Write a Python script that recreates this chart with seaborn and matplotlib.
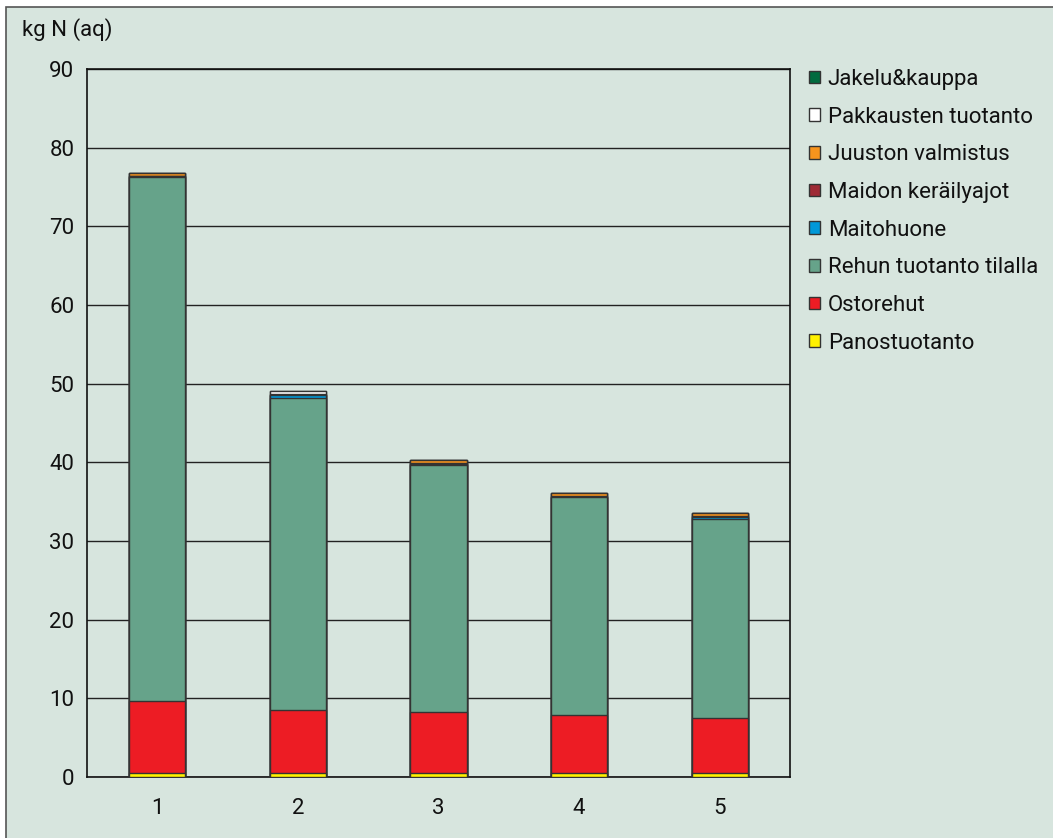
import numpy as np
import pandas as pd
import matplotlib
matplotlib.use("Agg")
import matplotlib.pyplot as plt
import seaborn as sns
from matplotlib.patches import Rectangle, Patch

categories = ["1", "2", "3", "4", "5"]
series_names = ["Panostuotanto", "Ostorehut", "Rehun tuotanto tilalla", "Maitohuone",
                "Maidon keräilyajot", "Juuston valmistus", "Pakkausten tuotanto", "Jakelu&kauppa"]
panostuotanto = [0.5, 0.5, 0.5, 0.5, 0.5]
ostorehut = [9.2, 8.0, 7.7, 7.35, 7.0]
rehun_tuotanto = [66.6, 39.7, 31.4, 27.7, 25.3]
maitohuone = [0.05, 0.3, 0.25, 0.1, 0.3]
maidon_keraily = [0.05, 0.1, 0.05, 0.05, 0.1]
juuston_valmistus = [0.35, 0.05, 0.35, 0.35, 0.3]
pakkausten = [0.05, 0.4, 0.05, 0.05, 0.1]
jakelu = [0.02, 0.02, 0.02, 0.02, 0.02]
colors = ["#fff200", "#ed1c24", "#66a38a", "#0098d8", "#9e2a35", "#f7941d", "#ffffff", "#006b3f"]

bg = "#d7e5de"
values = [panostuotanto, ostorehut, rehun_tuotanto, maitohuone,
          maidon_keraily, juuston_valmistus, pakkausten, jakelu]
df = pd.DataFrame(dict(zip(series_names, values)), index=categories)
cum = df.cumsum(axis=1)

sns.set_style("white")
plt.rcParams['font.family'] = ['Liberation Sans Narrow', 'Roboto', 'DejaVu Sans']

fig = plt.figure(figsize=(10.53, 8.38), dpi=100, facecolor="white")
fig.patches.append(Rectangle((6 / 1053, -0.01), 1.02, 1 - 7 / 838 + 0.01, transform=fig.transFigure,
                             facecolor=bg, edgecolor="#555555", linewidth=1.2, zorder=-10))
ax = fig.add_axes([87 / 1053, 61 / 838, 703 / 1053, 708 / 838])
ax.set_facecolor(bg)

# draw cumulative totals from the top layer down so each layer overlays the next
for name, col in reversed(list(zip(series_names, colors))):
    sns.barplot(x=categories, y=cum[name].values, color=col, width=0.4,
                edgecolor="#333333", linewidth=1, saturation=1, ax=ax, zorder=3)

ax.set_ylim(0, 90)
ax.set_xlim(-0.5, 4.5)
ax.set_yticks(np.arange(0, 91, 10))
ax.yaxis.grid(True, color="#222222", linewidth=1)
ax.set_axisbelow(True)
ax.set_xticks(range(5))
ax.set_xticklabels(categories)
ax.set_xticks(np.arange(-0.5, 4.6, 1), minor=True)
ax.tick_params(axis="x", which="major", length=0, pad=15, labelsize=16, colors="#111111")
ax.tick_params(axis="x", which="minor", length=10, width=1, color="#555555", direction="out")
ax.tick_params(axis="y", length=6, width=1, color="#555555", direction="out", labelsize=16,
               pad=3, labelcolor="#111111")
for s in ax.spines.values():
    s.set_color("#111111")
    s.set_linewidth(1.2)
ax.set_xlabel("")
ax.set_ylabel("")

fig.text(22 / 1053, 1 - 30 / 838, "kg N (aq)", fontsize=16, va="center", ha="left", color="#111111")

handles = [Patch(facecolor=c, edgecolor="#333333", linewidth=1) for c in colors]
leg = fig.legend(handles[::-1], series_names[::-1], loc="upper left",
                 bbox_to_anchor=(800 / 1053, 1 - 60 / 838), frameon=False, fontsize=16,
                 handlelength=0.5, handleheight=0.5, handletextpad=0.35, labelspacing=0.75,
                 borderaxespad=0)
for t in leg.get_texts():
    t.set_color("#111111")

fig.savefig("out.png", dpi=100, facecolor=fig.get_facecolor())
